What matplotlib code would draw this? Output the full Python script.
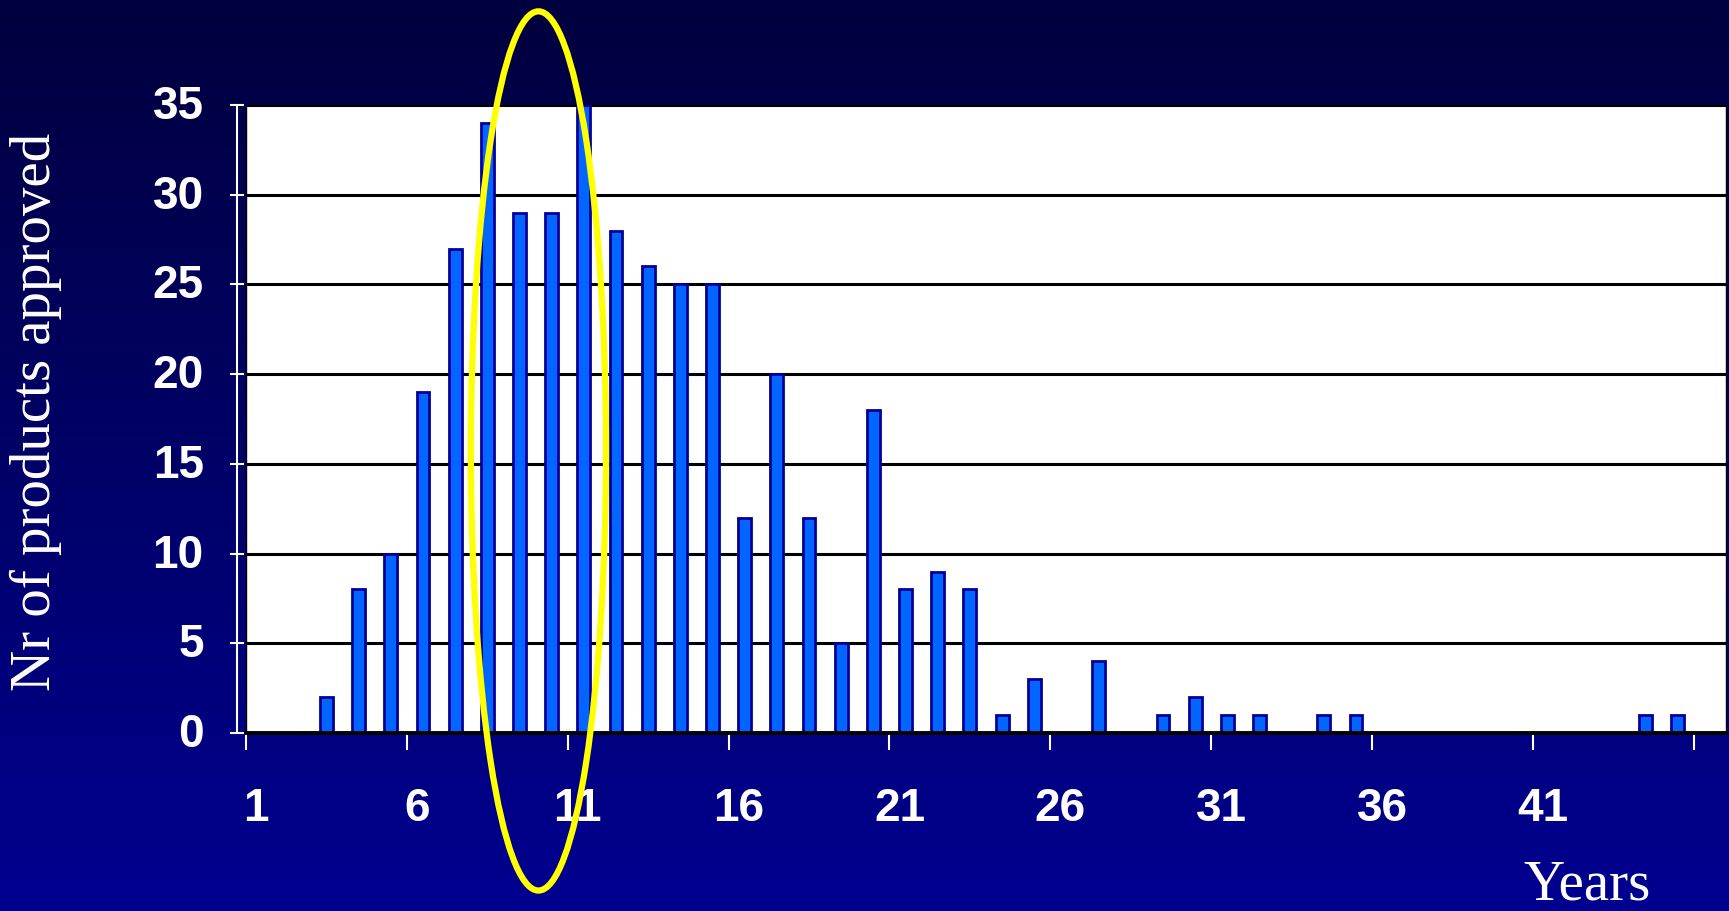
import numpy as np
import matplotlib
matplotlib.use("Agg")
import matplotlib.pyplot as plt
import matplotlib.transforms as mtransforms
from matplotlib.colors import LinearSegmentedColormap
from matplotlib.patches import Ellipse

# Years since first filing (1..46) and number of products approved in each year
years = list(range(1, 47))
approved = [0, 0, 2, 8, 10, 19, 27, 34, 29, 29,
            35, 28, 26, 25, 25, 12, 20, 12, 5, 18,
            8, 9, 8, 1, 3, 0, 4, 0, 1, 2,
            1, 1, 0, 1, 1, 0, 0, 0, 0, 0,
            0, 0, 0, 1, 1, 0]
label_years = [1, 6, 11, 16, 21, 26, 31, 36, 41]
y_ticks = [0, 5, 10, 15, 20, 25, 30, 35]

W, H = 1729, 911
fig = plt.figure(figsize=(W / 100, H / 100), dpi=100)

# navy gradient backdrop
bg = fig.add_axes([0, 0, 1, 1], zorder=-10)
cmap = LinearSegmentedColormap.from_list("navy", ["#00003e", "#000090"])
grad = np.linspace(0, 1, 256).reshape(-1, 1)
bg.imshow(grad, aspect="auto", cmap=cmap, extent=[0, 1, 0, 1], origin="upper")
bg.set_axis_off()

left, right = 246 / W, 1726 / W
bottom, top = (H - 733) / H, (H - 105) / H
ax = fig.add_axes([left, bottom, right - left, top - bottom])
ax.set_facecolor("white")
ax.patch.set_edgecolor("black")
ax.patch.set_linewidth(1.0)

ax.bar(years, approved, width=0.40, color="#0066ff", edgecolor="#000099",
       linewidth=2.0, zorder=3)

ax.set_xlim(0.5, 46.5)
ax.set_ylim(0, 35)
ax.set_axisbelow(True)

# horizontal gridlines
ax.set_yticks(y_ticks)
ax.yaxis.grid(True, color="black", linewidth=2.2)
ax.xaxis.grid(False)

# spines
for s in ("top", "right"):
    ax.spines[s].set_visible(False)
ax.spines["bottom"].set_color("black")
ax.spines["bottom"].set_linewidth(2.8)
ax.spines["bottom"].set_zorder(4)
ax.spines["left"].set_position(("outward", 6.5))
ax.spines["left"].set_color("white")
ax.spines["left"].set_linewidth(1.5)

tick_font = {"family": "Liberation Sans", "weight": "bold", "size": 33}

# y axis ticks and labels
ax.tick_params(axis="y", direction="inout", length=10, width=1.5, color="white",
               labelcolor="white", pad=19)
ax.set_yticklabels([str(v) for v in y_ticks], fontdict=tick_font)
lift = mtransforms.ScaledTranslation(0, 0.03, fig.dpi_scale_trans)
for lbl in ax.get_yticklabels():
    lbl.set_transform(lbl.get_transform() + lift)

# x axis: tick marks between category groups, labels centred on categories
ax.set_xticks([v - 0.5 for v in range(1, 47, 5)])
ax.set_xticklabels([])
ax.tick_params(axis="x", which="major", direction="out", length=12, width=1.5,
               color="white")
ax.set_xticks(label_years, minor=True)
ax.set_xticklabels([str(v) for v in label_years], minor=True, fontdict=tick_font)
ax.tick_params(axis="x", which="minor", length=0, pad=39, labelcolor="white")
nudge = mtransforms.ScaledTranslation(-0.06, 0, fig.dpi_scale_trans)
for lbl in ax.get_xticklabels(minor=True):
    lbl.set_transform(lbl.get_transform() + nudge)

# highlight ellipse around the peak years
ell = Ellipse((9.59, 15.72), width=4.2, height=49.0, fill=False,
              edgecolor="#ffff00", linewidth=4.5, zorder=6, clip_on=False)
ax.add_patch(ell)

label_font = {"family": "Liberation Serif", "size": 41, "color": "white"}
fig.text(36 / W, 1 - 412 / H, "Nr of products approved", rotation=90,
         ha="center", va="center", **label_font)
fig.text(1587 / W, 1 - 899 / H, "Years", ha="center", va="baseline", **label_font)

fig.savefig("out.png", dpi=100)
